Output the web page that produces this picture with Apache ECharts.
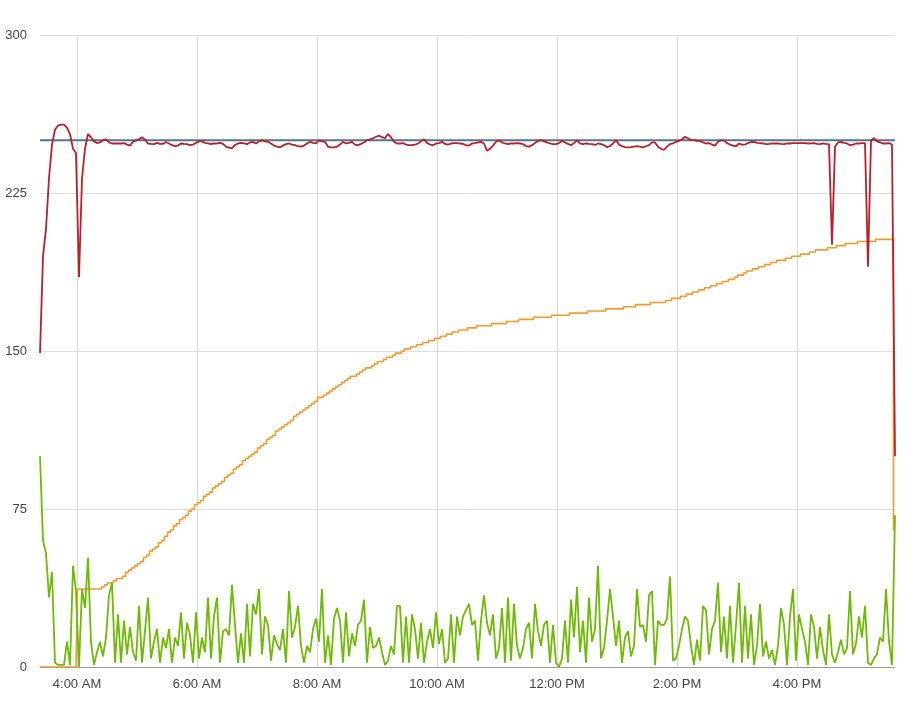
<!DOCTYPE html>
<html>
<head>
<meta charset="utf-8">
<script src="https://cdn.jsdelivr.net/npm/echarts@6/dist/echarts.min.js"></script>
<style>
html,body{margin:0;padding:0;background:#fff;}
#chart{width:917px;height:707px;}
</style>
</head>
<body>
<div id="chart"></div>
<script>
// Time base: first sample at 3:23 AM, one sample every 3 minutes
const startTime = [3, 23];
const stepMinutes = 3;

const yTicks = [0, 75, 150, 225, 300];

const setpointIndex = [0, 285];
const setpointValues = [250, 250];

const redValues = [
149,195,208,232,248,255,257,257.5,257.5,256,
253,246,244,185,232,246,253,251.5,249.5,248.7,
249,250,250.5,249,248.5,248.5,248.5,248.5,248.7,248,
247.5,249.3,250,250.5,251.5,250.3,248.5,248.3,248.2,248.8,
248.3,248.3,249.2,248.5,247.7,247.3,247.5,248.5,248.3,248.2,
247.7,248,248.8,249.5,249.5,248.8,248.5,248.2,248.5,248.5,
248.8,248.3,247,246.5,246.2,247.8,248.5,248.8,248.5,248.2,
249,249.3,248.5,249.5,250,249.5,249.3,248.5,247.5,247,
246.7,247.5,248.2,248.5,248,247.7,247.2,247,247.5,248.5,
249.3,248.8,248.5,250,249.5,249.3,247,246.7,246.7,247,
248,249.3,248.5,248.8,249.3,248,247.7,248.3,249,250.1,
250.5,251,251.7,252.2,251.5,251,253,251.5,249.3,248.5,
248.5,248.7,248,247.7,247.7,248,248.5,249.5,250.5,248.8,
248,247.7,248.5,248.7,249.3,248.3,248,248.5,248.7,248.7,
248.5,248.3,247.7,247.5,
248.5,248.7,249,249.3,248.5,245,246,247.5,249.3,250,
249,248.5,248.2,248.5,248.5,248.7,248.5,248.2,247.3,247,
247.7,248.7,249.7,250.1,249.5,249,248.5,248.2,248.2,248.7,
249.7,249,248.3,247.7,248.7,250,248.5,248.2,248.5,248.3,
248.2,247.8,248.5,248.2,247.7,246.8,247.3,248.5,250,248,
247.2,246.8,246.7,246.8,247,247.3,247,246.7,247.2,247.7,
249,249,247,246,245.4,247,248.2,248.5,249.3,249.7,
250.5,251.7,251,250.1,250.1,249.8,249.7,249,248.5,248.7,
248,247.5,249.3,250,250,248.7,248,247.5,247.2,248.5,
248,248,248.7,249.2,249.3,248.8,248.7,248.5,248.2,248.3,
248.5,248.5,248.5,248.3,248.2,248.5,248.5,248.7,248.7,248.7,
248.7,248.7,248.5,248.6,248.7,248.3,248.2,248.5,248.3,248.2,
200.5,247,249,249.3,248.8,248.5,247.7,248,248.5,248.5,
248.7,248.7,190,250,251,249.5,249,248.5,248.5,248.7,
248,100
];

const orangeValues = [
0,0,0,0,0,0,0,0,0,0,0,0,0,
37,37,37,37,37,37,37,37,
38,39,40,40,41,42,42,43,45,
46,47,48,49,50,52,53,55,56,57,
59,60,62,64,65,67,68,70,71,72,
74,75,77,78,79,81,82,83,85,86,
87,88,90,91,92,94,95,96,98,99,
100,101,102,104,105,106,108,109,110,112,
113,114,115,116,117,119,120,121,122,123,
124,125,126,128,128,129,130,131,132,133,
134,135,136,137,138,138,139,140,141,142,
142,143,144,145,145,146,147,147,148,149,
149,150,151,151,152,152,153,153,154,154,
155,155,156,156,157,157,158,158,159,159,
160,160,160,161,161,161,162,162,162,162,
162,163,163,163,163,163,164,164,164,164,
165,165,165,165,165,166,166,166,166,166,
166,167,167,167,167,167,167,168,168,168,
168,168,168,169,169,169,169,169,169,170,
170,170,170,170,170,171,171,171,171,172,
172,172,172,172,173,173,173,173,173,174,
174,175,175,175,176,176,177,177,178,178,
179,179,180,180,181,181,182,182,183,183,
184,184,185,186,186,187,188,188,189,189,
190,190,191,191,192,192,193,193,193,194,
194,195,195,195,196,196,196,197,197,198,
198,198,198,199,199,199,200,200,200,201,
201,201,201,202,202,202,202,202,202,203,
203,203,203,203,203,65
];

const greenValues = [
100,60,54,33,45,2,1,1,1,12,
1,48,36,0,37,28,52,12,1,7,
12,5,14,34,40,2,25,2,22,6,
19,7,3,29,2,17,33,4,12,18,
2,14,9,18,2,14,10,26,4,21,
15,2,26,4,14,7,33,4,24,33,
2,17,18,15,39,20,2,16,2,30,
5,30,
25,37,6,24,20,3,15,11,8,18,
2,36,14,19,29,10,2,10,7,18,
23,12,37,2,15,1,23,28,22,2,
26,5,16,10,20,22,32,2,19,9,
10,14,7,1,3,10,6,29,29,2,
24,2,25,18,4,21,2,12,18,9,
26,11,18,2,4,25,2,24,15,24,
27,30,
20,22,3,22,34,21,15,25,4,9,
28,2,33,3,30,10,4,9,18,21,
4,30,17,10,20,22,2,20,2,0,
4,22,2,32,14,38,7,22,2,33,
12,18,48,4,9,22,37,24,10,22,
2,14,17,5,10,37,19,20,12,34,
36,1,22,20,20,23,43,3,4,10,
18,24,
22,10,1,13,3,29,27,6,18,22,
40,7,24,4,29,2,20,40,2,29,
4,25,1,10,30,5,12,4,8,1,
10,28,20,1,24,37,3,25,18,12,
1,25,19,4,19,8,1,25,6,2,
7,13,6,9,36,6,11,24,14,29,
2,1,4,6,14,12,37,12,1,72
];

function timeAt(i) {
  return new Date(2020, 0, 1, startTime[0], startTime[1] + i * stepMinutes).getTime();
}
function pairs(values) { return values.map((v, i) => [timeAt(i), v]); }

const xMin = timeAt(0);
const xMax = timeAt(greenValues.length - 1);

const labelFont = { color: '#444', fontSize: 13, fontFamily: 'Arial, "Liberation Sans", sans-serif' };

const chart = echarts.init(document.getElementById('chart'), null, { renderer: 'canvas' });
chart.setOption({
  animation: false,
  backgroundColor: '#fff',
  grid: { left: 40, right: 22, top: 35, bottom: 40, containLabel: false },
  xAxis: {
    type: 'time',
    min: xMin,
    max: xMax,
    splitNumber: 5,
    axisLine: { show: true, lineStyle: { color: '#999', width: 1 } },
    axisTick: { show: false },
    axisLabel: Object.assign({
      margin: 11,
      hideOverlap: false,
      showMinLabel: false,
      showMaxLabel: false,
      formatter: function (value) {
        const d = new Date(value);
        const h = d.getHours(), m = d.getMinutes();
        if (m !== 0 || h % 2 !== 0) return '';
        const hh = h % 12 === 0 ? 12 : h % 12;
        return hh + ':00 ' + (h < 12 ? 'AM' : 'PM');
      }
    }, labelFont),
    splitLine: { show: true, showMinLine: false, showMaxLine: false, lineStyle: { color: '#d9d9d9', width: 1 } }
  },
  yAxis: {
    type: 'value',
    min: yTicks[0],
    max: yTicks[yTicks.length - 1],
    interval: yTicks[1] - yTicks[0],
    axisLine: { show: false },
    axisTick: { show: false },
    axisLabel: Object.assign({ margin: 13 }, labelFont),
    splitLine: { show: true, lineStyle: { color: '#dedede', width: 1 } }
  },
  series: [
    {
      name: 'Setpoint', type: 'line', showSymbol: false, silent: true,
      data: setpointIndex.map((idx, k) => [timeAt(idx), setpointValues[k]]),
      lineStyle: { color: '#4d7696', width: 2 }, z: 2
    },
    {
      name: 'Output', type: 'line', showSymbol: false, silent: true, step: 'middle',
      data: pairs(orangeValues),
      lineStyle: { color: '#f29b2b', width: 1.6 }, z: 3
    },
    {
      name: 'Temperature', type: 'line', showSymbol: false, silent: true,
      data: pairs(redValues),
      lineStyle: { color: '#b8202a', width: 1.8 }, z: 4
    },
    {
      name: 'Power', type: 'line', showSymbol: false, silent: true,
      data: pairs(greenValues),
      lineStyle: { color: '#6fba05', width: 1.8 }, z: 5
    }
  ]
});
</script>
</body>
</html>
